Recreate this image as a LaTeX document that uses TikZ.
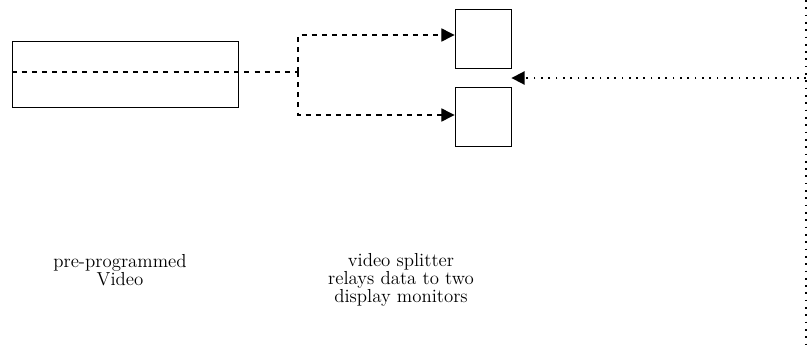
\documentclass[tikz,border=0pt]{standalone}
\usetikzlibrary{arrows.meta,positioning}
\begin{document}
\begin{tikzpicture}[x=0.025cm, y=-0.025cm, >={Triangle[length=3.3mm,width=3.3mm]},
		box/.style={draw, semithick, inner sep=0pt},
		monitor/.style={box, minimum width=1.4cm, minimum height=1.475cm},
		feed/.style={thick, dash pattern=on 3.6pt off 3.6pt},
		ctrl/.style={line width=1.3pt, dash pattern=on 1.2pt off 4pt},
		caption/.style={align=center, font=\fontsize{13.4}{13}\selectfont}]
			\useasboundingbox (0,0) rectangle (811,356);
			% tape source and the two display monitors
			\node[box, minimum width=5.65cm, minimum height=1.65cm] (video) at (125,74) {};
			\node[monitor] (monA) at (483,38.5) {};
			\node[monitor] (monB) at (483,116.5) {};
			\coordinate (split) at (298,72);
			\draw[feed] (video.west |- split) -- (split);
			\draw[feed,->] (split) |- (monA.west |- 0,35);
			\draw[feed,->] (split) |- (monB.west |- 0,115);
			% control line coming in from the right
			\coordinate (ctop) at (806,0);
			\coordinate (cbot) at (806,345);
			\draw[ctrl] (ctop) -- (cbot);
			\draw[ctrl,->] (ctop |- 0,78) -- (monA.east |- 0,78);
			\node[caption] (vidtext) at (120,270) {pre-programmed\\Video};
			\node[caption] (splittext) at (401,280) {video splitter\\relays data to two\\display monitors};
		\end{tikzpicture}
\end{document}
